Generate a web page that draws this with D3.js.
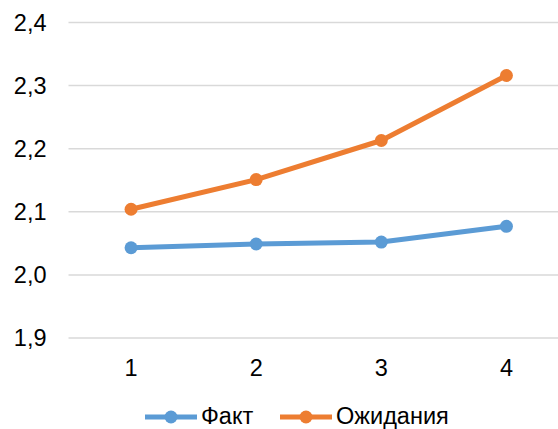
<!DOCTYPE html>
<html>
<head>
<meta charset="utf-8">
<script src="https://cdn.jsdelivr.net/npm/d3@7"></script>
<style>
  body { margin: 0; background: #fff; overflow: hidden; }
  svg { display: block; font-family: "Liberation Sans", Arial, sans-serif; }
</style>
</head>
<body>
<div id="chart"></div>
<script>
const categories = ["1", "2", "3", "4"];
const fact = [2.043, 2.049, 2.052, 2.077];
const expected = [2.104, 2.151, 2.213, 2.316];
const yTicks = [1.9, 2.0, 2.1, 2.2, 2.3, 2.4];
const seriesNames = ["Факт", "Ожидания"];
const colors = ["#5B9BD5", "#ED7D31"];

const WIDTH = 558;
const HEIGHT = 429;
const FONT = "23.5px";
const MARGINS = {left: 68.5, right: -11, top: 22.5, bottom: 91};

const svg = d3.select("#chart")
              .append("svg")
                .attr("width", WIDTH)
                .attr("height", HEIGHT);

const X_SCALE = d3.scaleBand()
                    .domain(categories)
                    .range([MARGINS.left, WIDTH - MARGINS.right]);

const Y_SCALE = d3.scaleLinear()
                    .domain([1.9, 2.4])
                    .range([HEIGHT - MARGINS.bottom, MARGINS.top]);

const fmt = d3.format(".1f");

// gridlines
svg.append("g")
    .selectAll("line")
    .data(yTicks)
    .enter()
    .append("line")
      .attr("x1", MARGINS.left)
      .attr("x2", WIDTH - MARGINS.right)
      .attr("y1", d => Y_SCALE(d))
      .attr("y2", d => Y_SCALE(d))
      .attr("stroke", "#D9D9D9")
      .attr("stroke-width", 1.5);

// y labels
const yAxis = svg.append("g")
    .attr("transform", "translate(" + (MARGINS.left - 22) + ",0)")
    .call(d3.axisLeft(Y_SCALE).tickValues(yTicks).tickSize(0)
            .tickFormat(d => fmt(d).replace(".", ",")));
yAxis.select(".domain").remove();
yAxis.selectAll("text")
    .attr("font-size", FONT)
    .attr("fill", "#000")
    .attr("x", 0)
    .attr("font-family", "Liberation Sans, Arial, sans-serif");

// x labels
const xAxis = svg.append("g")
    .attr("transform", "translate(0," + (HEIGHT - MARGINS.bottom + 21) + ")")
    .call(d3.axisBottom(X_SCALE).tickSize(0));
xAxis.select(".domain").remove();
xAxis.selectAll("text")
    .attr("font-size", FONT)
    .attr("fill", "#000")
    .attr("y", 0)
    .attr("dy", "0.71em")
    .attr("font-family", "Liberation Sans, Arial, sans-serif");

const cx = d => X_SCALE(d) + X_SCALE.bandwidth() / 2;

const series = [fact, expected];
series.forEach((vals, i) => {
  const pts = categories.map((c, j) => [cx(c), Y_SCALE(vals[j])]);
  svg.append("path")
      .attr("d", d3.line()(pts))
      .attr("fill", "none")
      .attr("stroke", colors[i])
      .attr("stroke-width", 5)
      .attr("stroke-linejoin", "round");
  svg.append("g")
      .selectAll("circle")
      .data(pts)
      .enter()
      .append("circle")
        .attr("cx", d => d[0])
        .attr("cy", d => d[1])
        .attr("r", 6.5)
        .attr("fill", colors[i]);
});

// legend (kept just inside the bottom edge)
const legendX = [145, 280];
const legendY = 417;
seriesNames.forEach((name, i) => {
  const g = svg.append("g");
  g.append("line")
      .attr("x1", legendX[i]).attr("x2", legendX[i] + 52)
      .attr("y1", legendY).attr("y2", legendY)
      .attr("stroke", colors[i])
      .attr("stroke-width", 5);
  g.append("circle")
      .attr("cx", legendX[i] + 26)
      .attr("cy", legendY)
      .attr("r", 6.5)
      .attr("fill", colors[i]);
  g.append("text")
      .attr("x", legendX[i] + 56)
      .attr("y", 424)
      .attr("font-size", FONT)
      .attr("fill", "#000")
      .text(name);
});
</script>
</body>
</html>
